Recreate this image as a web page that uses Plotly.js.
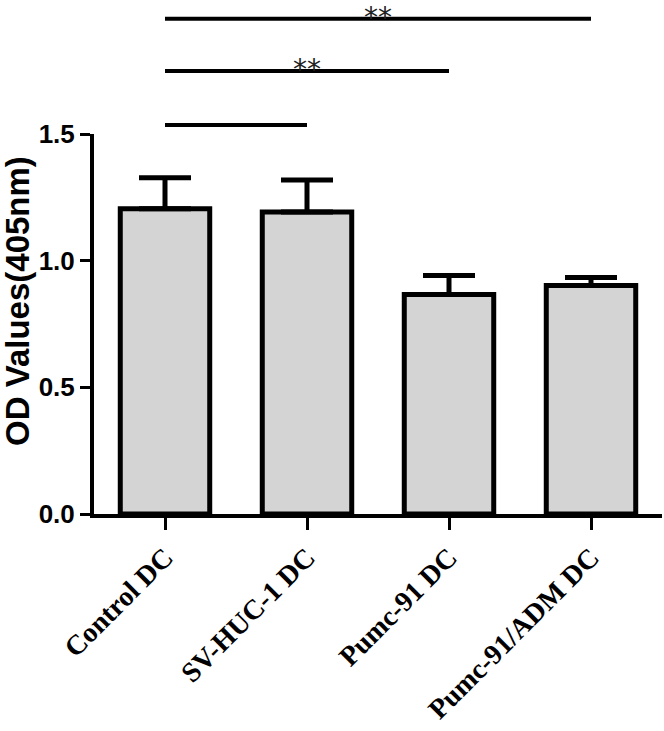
<!DOCTYPE html>
<html>
<head>
<meta charset="utf-8">
<script src="https://cdn.plot.ly/plotly-3.0.1.min.js"></script>
<style>
  html, body { margin: 0; padding: 0; background: #fff; }
  #plotArea { width: 664px; height: 731px; }
</style>
</head>
<body>
<div id="plotArea"></div>
<script>
// 数据（从图上读出来的估计值）
const groups = ['Control DC', 'SV-HUC-1 DC', 'Pumc-91 DC', 'Pumc-91/ADM DC'];
const meanOD = [1.205, 1.192, 0.866, 0.902];
const errOD = [0.122, 0.126, 0.075, 0.032];

// 显著性比较：从哪组到哪组，标注文字
const pairFrom = [0, 0, 0];
const pairTo = [1, 2, 3];
const pairMark = ['', '**', '**'];

// 括号线的高度（paper 坐标，在坐标区上方）
const bracketLevels = [1.024, 1.166, 1.303];

const barTrace = {
  x: groups,
  y: meanOD,
  type: 'bar',
  width: 0.63,
  marker: { color: '#d4d4d4', line: { color: '#000', width: 5 } },
  error_y: {
    type: 'data',
    array: errOD,
    arrayminus: groups.map(() => 0),
    symmetric: false,
    color: '#000',
    thickness: 5,
    width: 26
  },
  hoverinfo: 'skip'
};

const shapes = [];
const annotations = [];
pairFrom.forEach((from, i) => {
  shapes.push({
    type: 'line',
    xref: 'x', yref: 'paper',
    x0: groups[from], x1: groups[pairTo[i]],
    y0: bracketLevels[i], y1: bracketLevels[i],
    line: { color: '#000', width: 4 }
  });
  if (pairMark[i]) {
    annotations.push({
      xref: 'x', yref: 'paper',
      x: (from + pairTo[i]) / 2,
      y: bracketLevels[i],
      yanchor: 'middle',
      yshift: 1.5,
      text: pairMark[i],
      showarrow: false,
      font: { family: 'DejaVu Sans, sans-serif', size: 28, color: '#222' }
    });
  }
});

// y 轴标题用注释放，位置比坐标轴中心偏上一点
annotations.push({
  xref: 'paper', yref: 'paper',
  x: -0.136, y: 0.56,
  xanchor: 'center', yanchor: 'middle',
  textangle: -90,
  text: 'OD Values(405nm)',
  showarrow: false,
  font: { family: 'Liberation Sans, Arial, sans-serif', size: 33, color: '#000', weight: 'bold' }
});

const layout = {
  width: 664,
  height: 731,
  margin: { l: 94, r: 2, t: 134, b: 217 },
  paper_bgcolor: '#fff',
  plot_bgcolor: '#fff',
  showlegend: false,
  xaxis: {
    type: 'category',
    range: [-0.5, 3.5],
    showline: true, linecolor: '#000', linewidth: 4,
    ticks: 'outside', ticklen: 12, tickwidth: 3, tickcolor: '#000',
    tickangle: -45,
    ticklabelstandoff: 0,
    showgrid: false, zeroline: false,
    tickfont: { family: 'Liberation Serif, Times New Roman, serif', size: 28, color: '#000', weight: 'bold' }
  },
  yaxis: {
    range: [0, 1.5],
    dtick: 0.5,
    tickformat: '.1f',
    showline: true, linecolor: '#000', linewidth: 4,
    ticks: 'outside', ticklen: 10, tickwidth: 3, tickcolor: '#000',
    showgrid: false, zeroline: false,
    tickfont: { family: 'Liberation Sans, Arial, sans-serif', size: 26, color: '#000', weight: 'bold' }
  },
  shapes: shapes,
  annotations: annotations
};

Plotly.newPlot('plotArea', [barTrace], layout, { staticPlot: true });
</script>
</body>
</html>
